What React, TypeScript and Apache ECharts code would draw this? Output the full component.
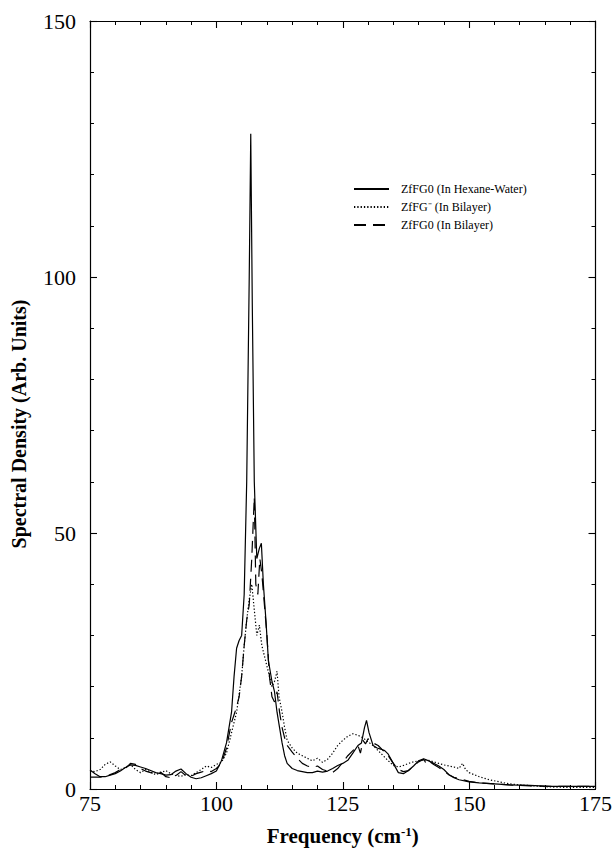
import React, { useEffect, useRef } from "react";
import * as echarts from "echarts";

// Frequency (cm^-1) / spectral density pairs
const hexaneWater: [number, number][] = [
  [75, 3.7], [76, 3], [77, 2.4], [78, 2.4], [79, 2.7], [80, 3], [81, 3.5], [82, 4.2], [83, 4.7], [84, 4.6],
  [85, 4.3], [86, 4], [87, 3.6], [88, 3.2], [89, 3], [90, 2.7], [91, 2.8], [92, 3.5], [93, 3.9], [94, 3],
  [95, 2.3], [96, 2], [97, 2.2], [98, 2.6], [99, 3], [100, 3.5], [101, 5.5], [102, 9], [103, 15], [103.5, 22],
  [104, 27.5], [104.5, 29], [105, 30], [105.5, 38], [106, 60], [106.5, 100], [106.8, 128], [107.1, 95], [107.5, 60],
  [108, 45], [108.5, 47], [108.9, 48], [109.3, 40], [109.8, 33], [110.3, 25], [111, 21], [111.5, 19], [112, 15],
  [112.5, 12], [113, 9], [113.5, 6.5], [114, 5], [115, 4], [116, 3.6], [117, 3.4], [118, 3.2], [119, 3.2],
  [120, 3.5], [121, 3.3], [122, 3.5], [123, 4], [124, 4.6], [125, 5], [126, 5.6], [127, 7], [128, 8.5],
  [128.7, 9], [129.3, 12], [129.7, 13.4], [130.2, 11], [131, 8.5], [131.8, 8], [132.5, 7.8], [133.3, 7.5],
  [134, 6.8], [135, 5], [136, 3.2], [137, 3], [138, 3.6], [139, 4.5], [140, 5.5], [141, 5.9], [142, 5.5],
  [143, 5], [144, 4.5], [145, 3.8], [146, 2.8], [147, 2.2], [148, 1.8], [150, 1.4], [152, 1.2], [155, 1],
  [158, 0.8], [162, 0.7], [166, 0.5], [170, 0.5], [175, 0.5],
];

const zfgMinusBilayer: [number, number][] = [
  [75, 3.5], [76, 3.4], [77, 3.8], [78, 4.8], [79, 5.3], [80, 4.5], [81, 3.8], [82, 4.2], [83, 4.8], [84, 3.8],
  [85, 3.2], [86, 3.8], [87, 3.3], [88, 2.8], [89, 3.2], [90, 3.6], [91, 3], [92, 2.6], [93, 2.5], [94, 2.8],
  [95, 2.6], [96, 3.2], [97, 3.8], [98, 4.5], [99, 4.2], [100, 4.8], [101, 5.2], [102, 7], [103, 11], [104, 15],
  [105, 22], [105.5, 28], [106, 33], [106.5, 37], [107, 40], [107.5, 35], [108, 30], [108.5, 32], [109, 28],
  [109.5, 26], [110, 24], [110.5, 22], [111, 20], [111.5, 21], [112, 23], [112.4, 18], [113, 15], [113.5, 12],
  [114, 9.5], [115, 8], [116, 7], [117, 6.5], [118, 6], [119, 5.5], [120, 6], [121, 5.2], [122, 5.8], [123, 7],
  [124, 8.5], [125, 9.5], [126, 10.3], [127, 10.8], [128, 10.5], [129, 10], [130, 9.2], [131, 8.5], [132, 7.5],
  [133, 6.5], [134, 5.5], [135, 4.6], [136, 4.3], [137, 4.6], [138, 5], [139, 5.3], [140, 5.5], [141, 5.7],
  [142, 5.6], [143, 5.3], [144, 5], [145, 4.7], [146, 4.5], [147, 4.3], [148, 4], [148.7, 5], [149.3, 3.8],
  [150, 3.2], [151, 2.8], [152, 2.4], [154, 1.8], [156, 1.4], [158, 1], [160, 0.8], [163, 0.6], [166, 0.4],
  [170, 0.3], [175, 0.3],
];

const zfg0Bilayer: [number, number][] = [
  [75, 2.3], [77, 2.3], [79, 2.8], [80, 3.2], [81, 3.8], [82, 4], [83, 5], [84, 4.8], [85, 4], [86, 3.5],
  [87, 3.2], [88, 3], [89, 3.3], [90, 2.4], [91, 2.2], [92, 2.6], [93, 3.4], [94, 2.6], [95, 2.5], [96, 3],
  [97, 3.3], [98, 3.6], [99, 3.4], [100, 4], [101, 5], [102, 8], [103, 13], [103.5, 14.5], [104, 16], [104.5, 18],
  [105, 22], [105.5, 28], [106, 33], [106.5, 36], [107, 45], [107.5, 57], [107.8, 40], [108.2, 38], [108.6, 45],
  [109, 42], [109.5, 36], [110, 30], [110.5, 22], [111, 18], [111.5, 17], [112, 19], [112.5, 15], [113, 12],
  [113.5, 10], [114, 8.5], [115, 7.2], [116, 6], [117, 5], [118, 4.5], [119, 4.2], [120, 4.5], [121, 3.8],
  [122, 3.5], [123, 3.2], [124, 4], [125, 5.2], [126, 6.5], [127, 7.5], [128, 8.5], [128.5, 7], [129, 9.5],
  [129.5, 8.8], [130, 9.8], [131, 9], [132, 8.5], [133, 7.5], [134, 6.5], [135, 5], [136, 3.8], [137, 3.4],
  [138, 3.6], [139, 4.5], [140, 5.3], [141, 5.8], [141.5, 5], [142, 5.5], [143, 4.8], [144, 4.2], [145, 3.5],
  [146, 2.8], [147, 2.3], [148, 2], [150, 1.5], [152, 1.2], [155, 1], [158, 0.8], [162, 0.6], [166, 0.5],
  [170, 0.5], [175, 0.5],
];

const seriesNames = ["ZfFG0 (In Hexane-Water)", "ZfFG\u207B (In Bilayer)", "ZfFG0 (In Bilayer)"];
const xTicks = [75, 100, 125, 150, 175];
const yTicks = [0, 50, 100, 150];

const FONT = "'Liberation Serif', 'Times New Roman', serif";

export default function App() {
  const ref = useRef<HTMLDivElement>(null);
  useEffect(() => {
    if (!ref.current) return;
    const chart = echarts.init(ref.current, undefined, { renderer: "svg" });
    const axisCommon = {
      axisLine: { show: true, onZero: false, lineStyle: { color: "#000", width: 1.2 } },
      axisTick: { show: true, inside: true, length: 7, lineStyle: { color: "#000", width: 1.1 } },
      minorTick: { show: true, splitNumber: 5, length: 4, lineStyle: { color: "#000", width: 1 } },
      splitLine: { show: false },
      minorSplitLine: { show: false },
    };
    const xMin = xTicks[0];
    const xMax = xTicks[xTicks.length - 1];
    const xInt = xTicks[1] - xTicks[0];
    const yMin = yTicks[0];
    const yMax = yTicks[yTicks.length - 1];
    const yInt = yTicks[1] - yTicks[0];
    const lineTypes: any[] = ["solid", [1.3, 2], [12, 7]];
    const datasets = [hexaneWater, zfgMinusBilayer, zfg0Bilayer];
    chart.setOption({
      animation: false,
      backgroundColor: "#fff",
      grid: { left: 90, right: 19, top: 21, bottom: 59, containLabel: false },
      legend: {
        orient: "vertical",
        left: 348,
        top: 178,
        itemWidth: 35,
        itemHeight: 12,
        itemGap: 6,
        data: seriesNames,
        itemStyle: { opacity: 0, borderWidth: 0, color: "rgba(0,0,0,0)" },
        textStyle: { fontFamily: FONT, fontSize: 12, color: "#000", padding: [0, 0, 0, 7] },
      },
      xAxis: [
        {
          type: "value",
          min: xMin,
          max: xMax,
          interval: xInt,
          position: "bottom",
          ...axisCommon,
          axisLabel: { color: "#000", fontFamily: FONT, fontSize: 22, margin: 3 },
          name: "Frequency (cm{sup|-1})",
          nameLocation: "middle",
          nameGap: 36,
          nameTextStyle: {
            color: "#000",
            fontFamily: FONT,
            fontSize: 21,
            fontWeight: "bold",
            rich: {
              sup: { fontFamily: FONT, fontSize: 13, fontWeight: "bold", verticalAlign: "top", padding: [0, 0, 8, 0] },
            },
          },
        },
        {
          type: "value",
          min: xMin,
          max: xMax,
          interval: xInt,
          position: "top",
          ...axisCommon,
          axisLabel: { show: false },
        },
      ],
      yAxis: [
        {
          type: "value",
          min: yMin,
          max: yMax,
          interval: yInt,
          position: "left",
          ...axisCommon,
          axisLabel: { color: "#000", fontFamily: FONT, fontSize: 22, margin: 14 },
        },
        {
          type: "value",
          min: yMin,
          max: yMax,
          interval: yInt,
          position: "right",
          ...axisCommon,
          axisLabel: { show: false },
        },
      ],
      graphic: [
        {
          type: "text",
          x: 19,
          y: 424,
          rotation: Math.PI / 2,
          style: {
            text: "Spectral Density (Arb. Units)",
            fontFamily: FONT,
            fontSize: 20,
            fontWeight: "bold",
            fill: "#000",
            align: "center",
            verticalAlign: "middle",
          },
        },
      ],
      series: datasets.map((d, i) => ({
        name: seriesNames[i],
        type: "line",
        data: d,
        symbol: "none",
        showSymbol: false,
        smooth: false,
        xAxisIndex: 0,
        yAxisIndex: 0,
        lineStyle: { color: "#000", width: 1.2, type: lineTypes[i] },
        itemStyle: { color: "#000" },
        emphasis: { disabled: true },
      })),
    });
    return () => chart.dispose();
  }, []);
  return <div ref={ref} style={{ width: 615, height: 851, position: "absolute", left: 0, top: 0 }} />;
}
